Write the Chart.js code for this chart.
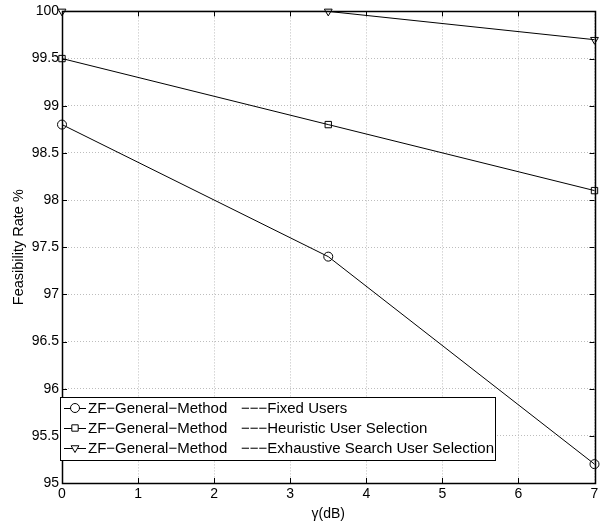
<!DOCTYPE html>
<html>
<head>
<meta charset="utf-8">
<script src="https://cdn.jsdelivr.net/npm/chart.js@4"></script>
<style>
  html, body { margin: 0; padding: 0; background: #fff; }
  #wrap { width: 600px; height: 523px; }
</style>
</head>
<body>
<div id="wrap"><canvas id="chart"></canvas></div>
<script>
// values
var gammaDb = [0, 3.5, 7];
var fixedUsers = [98.8, 97.4, 95.2];
var heuristicSel = [99.5, 98.8, 98.1];
var exhaustiveSel = [100, 100, 99.7];

var methodLabels = ['ZF\u2212General\u2212Method', 'ZF\u2212General\u2212Method', 'ZF\u2212General\u2212Method'];
var selectionLabels = ['\u2212\u2212\u2212Fixed Users', '\u2212\u2212\u2212Heuristic User Selection', '\u2212\u2212\u2212Exhaustive Search User Selection'];
var markers = ['circle', 'rect', 'triangle'];
var markerRot = [0, 0, 180];

var FONT = '"Liberation Sans", Arial, Helvetica, sans-serif';

function pts(ys) {
    return gammaDb.map(function(x, i) { return { x: x, y: ys[i] }; });
}

function series(label, ys, i) {
    return {
        label: label,
        data: pts(ys),
        borderColor: '#000',
        borderWidth: 1,
        backgroundColor: 'rgba(0,0,0,0)',
        pointStyle: markers[i],
        rotation: markerRot[i],
        pointRadius: 4.5,
        pointBorderWidth: 1,
        pointBorderColor: '#000',
        pointBackgroundColor: 'rgba(0,0,0,0)',
        clip: false,
        tension: 0
    };
}

// box, inward ticks and legend, matlab style
var matlabFrame = {
    id: 'matlabFrame',
    afterDraw: function(chart) {
        var ctx = chart.ctx;
        var a = chart.chartArea;
        var xs = chart.scales.x, ys = chart.scales.y;
        ctx.save();
        ctx.strokeStyle = '#000';
        ctx.lineWidth = 1;
        ctx.setLineDash([]);
        ctx.beginPath();
        xs.ticks.forEach(function(t) {
            var px = Math.round(xs.getPixelForValue(t.value)) + 0.5;
            ctx.moveTo(px, a.bottom); ctx.lineTo(px, a.bottom - 5);
            ctx.moveTo(px, a.top); ctx.lineTo(px, a.top + 5);
        });
        ys.ticks.forEach(function(t) {
            var py = Math.round(ys.getPixelForValue(t.value)) + 0.5;
            ctx.moveTo(a.left, py); ctx.lineTo(a.left + 5, py);
            ctx.moveTo(a.right, py); ctx.lineTo(a.right - 5, py);
        });
        ctx.stroke();
        ctx.lineWidth = 1.5;
        ctx.strokeRect(Math.round(a.left) + 0.5, Math.round(a.top) + 0.5,
                       Math.round(a.right - a.left), Math.round(a.bottom - a.top));

        // legend
        var lx = 60, ly = 397, lw = 435, lh = 63;
        ctx.fillStyle = '#fff';
        ctx.fillRect(lx, ly, lw, lh);
        ctx.lineWidth = 1;
        ctx.strokeRect(lx + 0.5, ly + 0.5, lw, lh);
        ctx.font = '15px ' + FONT;
        ctx.textBaseline = 'middle';
        chart.data.datasets.forEach(function(ds, i) {
            var cy = ly + 11 + i * 20;
            ctx.strokeStyle = '#000';
            ctx.beginPath();
            ctx.moveTo(lx + 4, cy + 0.5);
            ctx.lineTo(lx + 26, cy + 0.5);
            ctx.stroke();
            ctx.fillStyle = '#fff';
            Chart.helpers.drawPoint(ctx, {
                pointStyle: markers[i], rotation: markerRot[i],
                radius: 4.5, borderWidth: 1
            }, lx + 15, cy);
            ctx.fillStyle = '#000';
            ctx.fillText(methodLabels[i], lx + 28, cy + 1);
            ctx.fillText(selectionLabels[i], lx + 181, cy + 1);
        });
        ctx.restore();
    }
};

new Chart(document.getElementById('chart'), {
    type: 'line',
    data: {
        datasets: [
            series(methodLabels[0] + ' ' + selectionLabels[0], fixedUsers, 0),
            series(methodLabels[1] + ' ' + selectionLabels[1], heuristicSel, 1),
            series(methodLabels[2] + ' ' + selectionLabels[2], exhaustiveSel, 2)
        ]
    },
    options: {
        responsive: true,
        maintainAspectRatio: false,
        animation: false,
        layout: { padding: { left: 0, top: 8, right: 3, bottom: 0 } },
        plugins: {
            legend: { display: false },
            tooltip: { enabled: false }
        },
        scales: {
            x: {
                type: 'linear',
                min: 0, max: 7,
                ticks: { stepSize: 1, color: '#000', padding: 3, font: { family: FONT, size: 14 } },
                grid: { color: '#bdbdbd', drawTicks: false, lineWidth: 1 },
                border: { display: false, dash: [1, 2] },
                title: { display: true, text: '\u03b3(dB)', color: '#000', padding: { top: 0, bottom: 0 }, font: { family: FONT, size: 14 } },
                afterFit: function(s) { s.height = 40; s.paddingRight = 3; }
            },
            y: {
                min: 95, max: 100,
                ticks: {
                    stepSize: 0.5, color: '#000', padding: 3, font: { family: FONT, size: 14 },
                    callback: function(v) { return String(Math.round(v * 10) / 10); }
                },
                grid: { color: '#bdbdbd', drawTicks: false, lineWidth: 1 },
                border: { display: false, dash: [1, 2] },
                title: { display: true, text: 'Feasibility Rate %', color: '#000', padding: { top: 10, bottom: 0 }, font: { family: FONT, size: 14.5 } },
                afterFit: function(s) { s.width = 62; }
            }
        }
    },
    plugins: [matlabFrame]
});
</script>
</body>
</html>
